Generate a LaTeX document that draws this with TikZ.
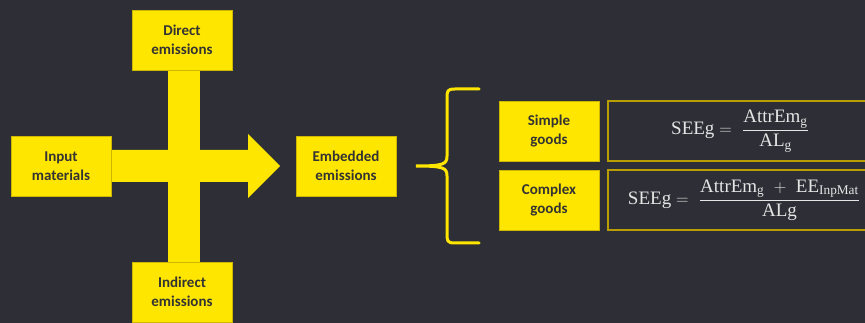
\documentclass[tikz,border=0pt]{standalone}
\usepackage{amsmath}
\usepackage{fontspec}
\newfontfamily\calib{Carlito}
\newfontfamily\cmb{Liberation Serif}
\newcommand{\ff}[1]{\text{\cmb #1}}
\definecolor{bg}{HTML}{2E2E36}
\definecolor{ylw}{HTML}{FFE600}
\definecolor{txt}{HTML}{333333}
\definecolor{frm}{HTML}{B89E00}
\begin{document}
\begin{tikzpicture}[x=1pt,y=-1pt,
  ybox/.style={fill=ylw,draw=ylw!80!black,line width=0.6pt,minimum width=100pt,minimum height=60pt,inner sep=0pt,
    text=txt,font=\calib\fontsize{15}{19}\selectfont\bfseries,align=center},
  fbox/.style={draw=frm,line width=1.4pt,fill=bg},
  ftxt/.style={text=white!90!black,font=\fontsize{19}{22}\selectfont,inner sep=0pt}]
\fill[bg] (0,0) rectangle (865,323);
\useasboundingbox (0,0) rectangle (865,323);
\clip (0,0) rectangle (865,323);
% cross and arrow
\fill[ylw] (168,70) rectangle (200,262);
\fill[ylw] (111,150) -- (248,150) -- (248,134) -- (280,166) -- (248,198) -- (248,182) -- (111,182) -- cycle;
\node[ybox] (direct) at (182,40) {Direct\\emissions};
\node[ybox] (input) at (61,166) {Input\\materials};
\node[ybox] (indirect) at (182,292) {Indirect\\emissions};
\node[ybox] (embedded) at (346,166) {Embedded\\emissions};
% brace
\draw[ylw,line width=3pt,line cap=round] (479,89) -- (455,89) .. controls (447,89) and (447,91) .. (447,99)
  -- (447,156) .. controls (447,164) and (444,166) .. (416,166)
  .. controls (444,166) and (447,168) .. (447,176) -- (447,233)
  .. controls (447,241) and (447,243) .. (455,243) -- (479,243);
\node[ybox] (simple) at (549,131) {Simple\\goods};
\node[ybox] (complex) at (549,200) {Complex\\goods};
\draw[fbox] (608,101) rectangle (866,161);
\draw[fbox] (608,170) rectangle (866,230);
\node[ftxt] (f1) at (740,131) {$\ff{SEEg} = \ \dfrac{\ff{AttrEm}_{\ff{g}}}{\ff{AL}_{\ff{g}}}$};
\node[ftxt] (f2) at (744,200) {$\ff{SEEg} = \ \dfrac{\ff{AttrEm}_{\ff{g}}\ +\ \ff{EE}_{\ff{InpMat}}}{\ff{ALg}}$};
\end{tikzpicture}
\end{document}
